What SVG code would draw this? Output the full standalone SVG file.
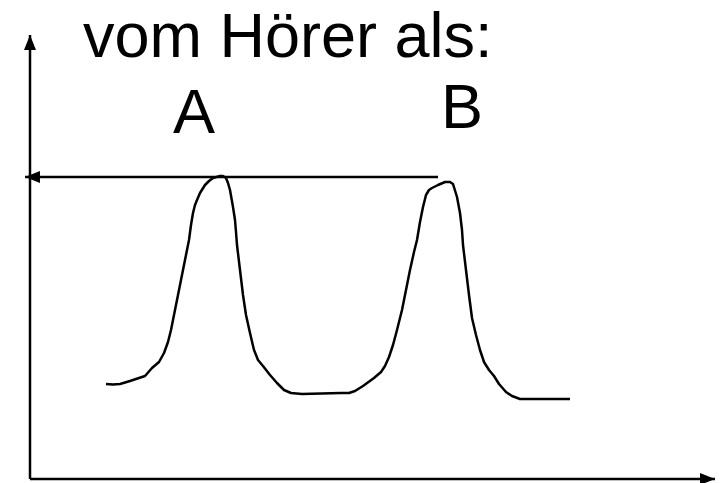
<svg xmlns="http://www.w3.org/2000/svg" width="720" height="483" viewBox="0 0 720 483">
<style>
.t{font-family:"Liberation Sans",Arial,sans-serif;fill:#000}
.ln{stroke:#000;stroke-width:2.5;fill:none}
.cv{stroke:#000;stroke-width:2.5;fill:none;stroke-linejoin:round;stroke-linecap:butt}
</style>
<defs>
<marker id="ah" viewBox="0 0 15 12" refX="15" refY="6" markerWidth="15" markerHeight="12" markerUnits="userSpaceOnUse" orient="auto">
<path d="M0,0 L15,6 L0,12 Z" fill="#000"/>
</marker>
</defs>
<rect width="720" height="483" fill="#fff"/>
<g id="title"><text class="t" x="83" y="57" font-size="63">vom Hörer als:</text></g>
<g id="labelA"><text class="t" x="173" y="133" font-size="63">A</text></g>
<g id="labelB"><text class="t" x="441" y="128" font-size="63">B</text></g>
<g id="connectors">
<line class="ln" x1="30" y1="479" x2="30" y2="35" marker-end="url(#ah)"/>
<line class="ln" x1="30" y1="479" x2="715" y2="479" marker-end="url(#ah)"/>
<line class="ln" x1="438" y1="177" x2="25" y2="177" marker-end="url(#ah)"/>
</g>
<g id="curve">
<polyline class="cv" points="106,384 113,384.5 120,384 130,381 145,376 152,368 159,362 164,353 168,342 171,330 176,305 180,285 185,260 189,240 191,225 193,213 195,205 197,200 200,193 205,185 209,181 213,178 220,176 223,176 226,178 228,183 230,190 233,207 235,220 236,232 237,245 240,270 243,295 246,315 250,333 254,350 258,360 263,366 270,375 277,383 284,390 291,393 302,394 341,393 349,393 355,391 363,386 374,378 381,372 385,366 389,357 393,345 397,330 402,310 406,290 410,270 414,252 417,240 420,222 423,207 426,195 429,190 432,188 438,185 445,182 450,182 453,184 457,197 460,213 462,230 463,245 466,270 469,295 472,318 476,335 480,350 484,362 489,370 494,376 499,384 506,392 512,396 520,399 526,399 570,399"/>
</g>
</svg>
